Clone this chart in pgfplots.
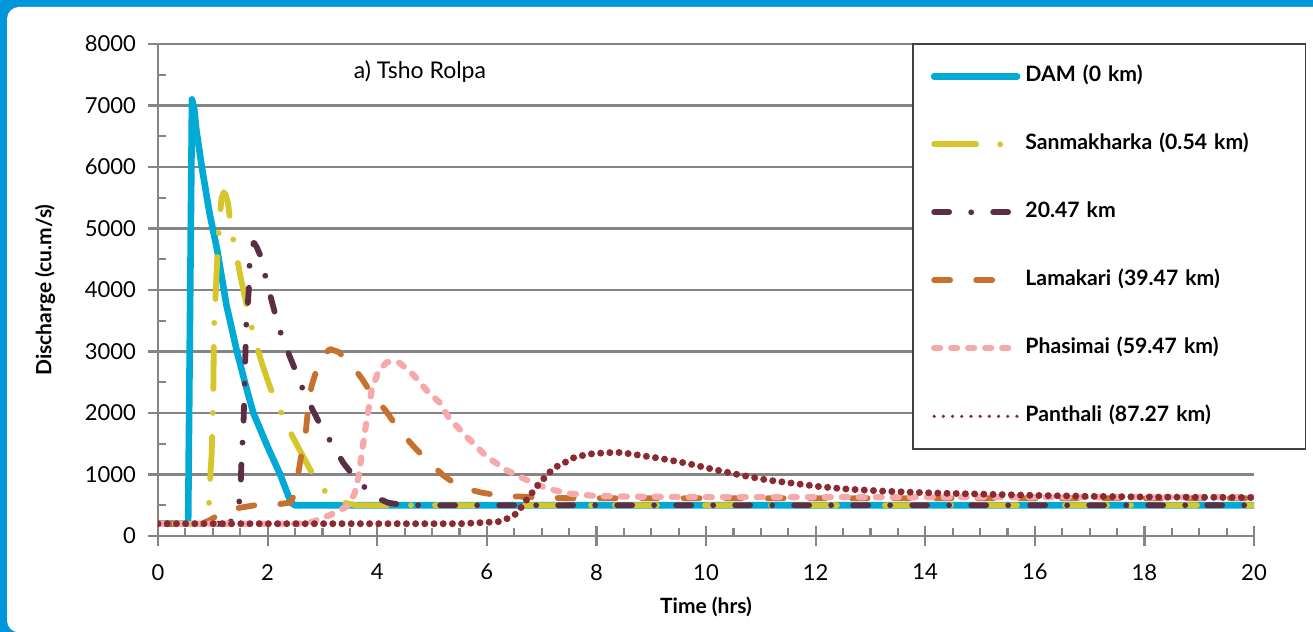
\documentclass[border=0pt]{standalone}
\usepackage{fontspec}
\setmainfont{Lato}
\usepackage{pgfplots}
\pgfplotsset{compat=1.18}
\definecolor{bgblue}{HTML}{0096DB}
\definecolor{cGrid}{HTML}{858585}
\definecolor{cDam}{HTML}{00AAD4}
\definecolor{cSan}{HTML}{D5C62B}
\definecolor{cKm}{HTML}{5B2E46}
\definecolor{cLam}{HTML}{C6712F}
\definecolor{cPha}{HTML}{F6A9AA}
\definecolor{cPan}{HTML}{8C2A32}
\begin{document}
\begin{tikzpicture}[x=1pt,y=1pt]
\useasboundingbox (0,0) rectangle (656.5,316);
\fill[bgblue] (-2,-2) rectangle (660,320);
\fill[white, rounded corners=6pt] (3.5,-0.2) rectangle (690,312.5);
\begin{axis}[
  at={(79pt,48pt)}, anchor=south west,
  scale only axis, width=548pt, height=246pt,
  xmin=0, xmax=20, ymin=0, ymax=8000,
  axis lines*=left,
  axis line style={draw=cGrid, line width=1.3pt},
  xtick={0,2,...,20}, ytick={0,1000,...,8000},
  minor x tick num=3, minor y tick num=1,
  ymajorgrids, grid style={draw=cGrid, line width=1.15pt},
  tick style={draw=cGrid, line width=1.1pt},
  tick align=center, major tick length=10pt, minor tick length=4pt,
  minor x tick style={yshift=2pt}, minor y tick style={xshift=2pt},
  /pgf/number format/assume math mode=true,
  /pgf/number format/set thousands separator={},
  tick label style={font=\fontsize{11}{13}\selectfont, black},
  xticklabel style={yshift=-5.5pt},
  yticklabel style={xshift=-2.5pt},
  xlabel={Time (hrs)}, ylabel={Discharge (cu.m/s)},
  label style={font=\fontsize{10.5}{12}\selectfont\bfseries},
  xlabel style={at={(axis description cs:0.5,-0.1443)}, anchor=center},
  ylabel style={at={(axis description cs:-0.1031,0.5)}, anchor=center, rotate=0},
  legend cell align=left,
  legend image code/.code={\draw[#1] (0pt,0pt) -- (41.5pt,0pt);},
  legend style={at={(axis description cs:0.688,1.002)}, anchor=north west,
    draw=black!75, line width=0.8pt, fill=white,
    inner xsep=9pt, inner ysep=11pt, row sep=23.5pt, column sep=2.5pt,
    font=\fontsize{10.6}{13}\selectfont\bfseries,
    nodes={inner sep=0pt, text height=8pt, text depth=2.5pt, text width=131pt, align=left}},
]
\addplot[cDam, line width=3.3pt, line join=round, line cap=round] coordinates {
(0,200) (0.55,200) (0.62,7100) (0.66,6950) (0.70,6600) (0.80,6000) (0.94,5250) (1.08,4650) (1.25,3750) (1.345,3380) (1.44,3000) (1.60,2450) (1.74,2000) (2.00,1450) (2.23,1000) (2.38,650) (2.43,540) (2.50,500) (20,500)};
\addlegendentry{DAM (0 km)}
\addplot[cSan, line width=2.9pt, line join=round, line cap=round, dash pattern=on 21pt off 12pt on 0pt off 12pt] coordinates {
(0,200) (0.78,200) (0.88,300) (0.93,500) (0.95,900) (0.98,1350) (1.00,2000) (1.01,2400) (1.015,2800) (1.02,3350) (1.05,3900) (1.07,4290) (1.09,4680) (1.12,5100) (1.16,5500) (1.20,5590) (1.24,5540) (1.28,5400) (1.33,5010) (1.42,4620) (1.50,4240) (1.67,3540) (1.77,3180) (1.90,2800) (2.04,2430) (2.20,2100) (2.36,1780) (2.56,1440) (2.77,1090) (3.02,750) (3.20,620) (3.40,540) (3.62,500) (20,500)};
\addlegendentry{Sanmakharka (0.54 km)}
\addplot[cKm, line width=2.9pt, line join=round, line cap=round, dash pattern=on 7.5pt off 11pt on 0pt off 11pt] coordinates {
(0,200) (1.30,200) (1.42,350) (1.48,530) (1.51,860) (1.52,1130) (1.54,1480) (1.56,1840) (1.57,2130) (1.58,2450) (1.59,2810) (1.60,3110) (1.61,3430) (1.64,3780) (1.66,4050) (1.67,4400) (1.71,4680) (1.75,4770) (1.80,4700) (1.89,4515) (1.97,4180) (2.07,3840) (2.15,3570) (2.26,3240) (2.40,2930) (2.53,2645) (2.66,2346) (2.83,2037) (2.98,1777) (3.19,1480) (3.38,1190) (3.58,964) (3.85,721) (4.00,620) (4.20,540) (4.48,504) (4.70,500) (20,500)};
\addlegendentry{20.47 km}
\addplot[cLam, line width=2.9pt, line join=round, line cap=round, dash pattern=on 8pt off 13pt] coordinates {
(0,200) (0.80,200) (0.95,260) (1.10,340) (1.30,420) (1.47,455) (1.83,510) (2.10,510) (2.23,520) (2.42,545) (2.50,700) (2.57,1070) (2.63,1400) (2.70,1720) (2.74,2080) (2.80,2430) (2.91,2750) (3.00,2930) (3.14,3040) (3.30,2990) (3.44,2860) (3.60,2700) (3.72,2560) (3.87,2350) (4.17,2020) (4.38,1750) (4.66,1460) (4.90,1240) (5.20,990) (5.50,800) (5.88,710) (6.27,650) (6.64,640) (7.06,620) (7.50,615) (20,615)};
\addlegendentry{Lamakari (39.47 km)}
\addplot[cPha, line width=3.1pt, line join=round, line cap=round, dash pattern=on 3pt off 5.5pt] coordinates {
(0,200) (2.55,200) (2.83,233) (3.14,341) (3.44,477) (3.52,580) (3.59,694) (3.66,965) (3.72,1345) (3.78,1723) (3.84,2049) (3.90,2374) (4.02,2672) (4.17,2824) (4.28,2838) (4.42,2808) (4.66,2620) (4.90,2370) (5.15,2160) (5.30,1930) (5.63,1615) (6.00,1290) (6.36,1070) (6.73,910) (7.09,775) (7.46,694) (8.00,650) (8.55,640) (10,632) (20,630)};
\addlegendentry{Phasimai (59.47 km)}
\addplot[cPan, line width=3.5pt, line cap=round, line join=round, dash pattern=on 0pt off 4.6pt, legend image post style={line width=1.8pt}] coordinates {
(0,200) (5.50,200) (5.88,216) (6.21,233) (6.39,288) (6.55,369) (6.70,558) (6.82,694) (6.91,802) (7.03,921) (7.12,1019) (7.27,1127) (7.40,1182) (7.55,1263) (7.70,1300) (7.88,1333) (8.19,1355) (8.45,1358) (8.67,1328) (9.16,1263) (9.65,1182) (10.13,1084) (10.62,992) (11.11,911) (11.59,857) (12.08,802) (12.56,764) (13.18,732) (13.78,710) (14.39,694) (14.94,683) (16,660) (17,645) (18,635) (19,630) (20,625)};
\addlegendentry{Panthali (87.27 km)}
\node[font=\fontsize{11.5}{13}\selectfont] at (axis cs:4.78,7545) {a) Tsho Rolpa};
\end{axis}
\end{tikzpicture}
\end{document}
